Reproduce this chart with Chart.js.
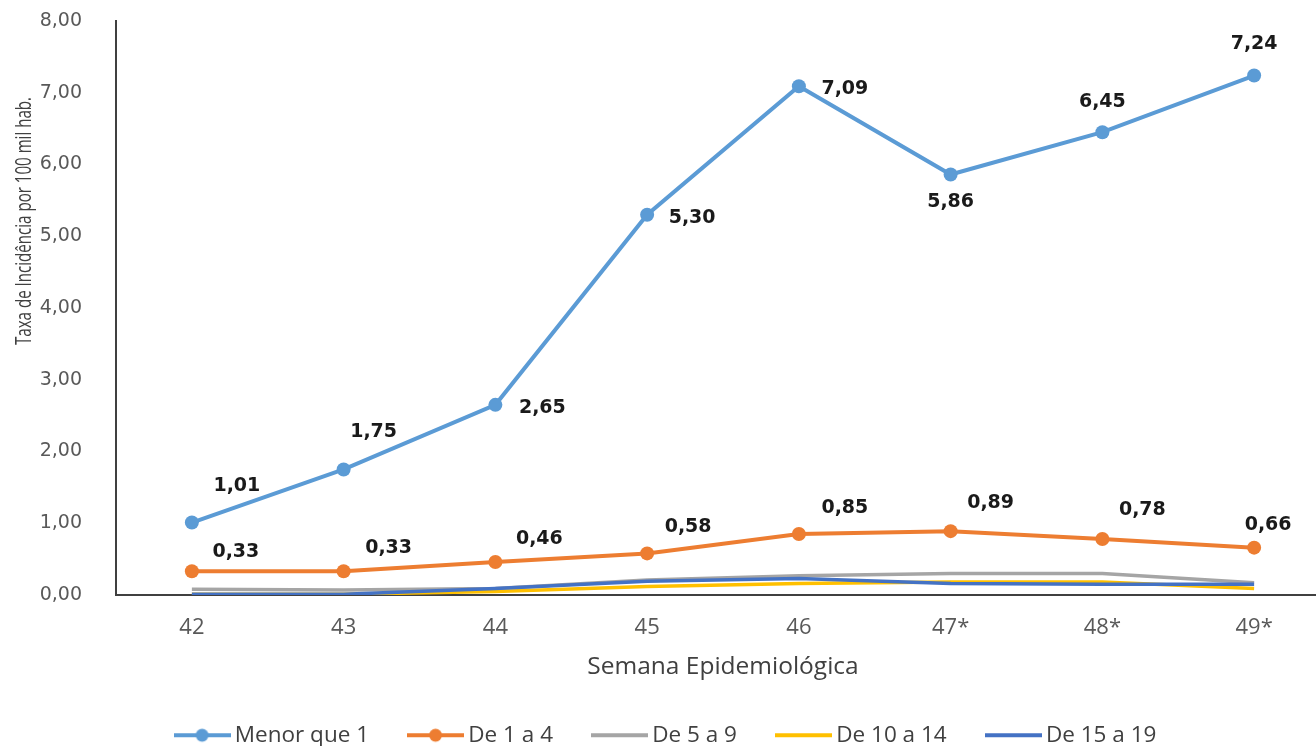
<!DOCTYPE html>
<html lang="pt">
<head>
<meta charset="utf-8">
<title>Taxa de Incidência por faixa etária</title>
<script src="https://cdn.jsdelivr.net/npm/chart.js@4/dist/chart.umd.min.js"></script>
<style>
  html, body { margin: 0; padding: 0; background: #ffffff; overflow: hidden; }
  #wrap { width: 1337px; height: 746px; position: relative; }
</style>
</head>
<body>
<div id="wrap"><canvas id="chart"></canvas></div>
<script>
// Semanas epidemiológicas (eixo X)
const semanas = ['42', '43', '44', '45', '46', '47*', '48*', '49*'];

// Taxa de incidência por 100 mil hab., por faixa etária
const menorQue1 = [1.01, 1.75, 2.65, 5.30, 7.09, 5.86, 6.45, 7.24];
const de1a4     = [0.33, 0.33, 0.46, 0.58, 0.85, 0.89, 0.78, 0.66];
const de5a9     = [0.08, 0.07, 0.09, 0.21, 0.27, 0.30, 0.30, 0.17];
const de10a14   = [0.01, 0.01, 0.05, 0.12, 0.16, 0.18, 0.18, 0.09];
const de15a19   = [0.01, 0.01, 0.09, 0.19, 0.23, 0.16, 0.15, 0.15];

// Marcas do eixo Y
const yTicks = [0, 1, 2, 3, 4, 5, 6, 7, 8];

// Deslocamento (px) de cada rótulo de valor em relação ao seu ponto
const offsetsMenor = [[45, -36], [30, -37], [47, 3], [45, 3], [46, 3], [0, 28], [0, -30], [0, -31]];
const offsets1a4   = [[44, -19], [45, -23], [44, -23], [41, -26], [46, -26], [40, -28], [40, -29], [14, -23]];

const fmt = v => v.toFixed(2).replace('.', ',');

const COLORS = {
  menor: '#5B9BD5',
  um: '#ED7D31',
  cinco: '#A5A5A5',
  dez: '#FFC000',
  quinze: '#4472C4'
};

const SANS = '"Open Sans", "Noto Sans", sans-serif';

// Ícone de legenda: linha com marcador opcional
function legendIcon(color, withDot) {
  const c = document.createElement('canvas');
  c.width = 57; c.height = 16;
  const g = c.getContext('2d');
  g.strokeStyle = color;
  g.lineWidth = 4;
  g.beginPath(); g.moveTo(0, 8); g.lineTo(57, 8); g.stroke();
  if (withDot) {
    g.fillStyle = color;
    g.beginPath(); g.arc(28.5, 8, 6.5, 0, Math.PI * 2); g.fill();
  }
  return c;
}

// Rótulos de valor das duas séries principais
const valueLabels = {
  id: 'valueLabels',
  afterDatasetsDraw(chart) {
    const ctx = chart.ctx;
    ctx.save();
    ctx.font = 'bold 19px "DejaVu Sans", Verdana, sans-serif';
    ctx.fillStyle = '#1a1a1a';
    ctx.textAlign = 'center';
    ctx.textBaseline = 'middle';
    chart.data.datasets.forEach((ds, i) => {
      if (!ds.labelOffsets) return;
      const meta = chart.getDatasetMeta(i);
      meta.data.forEach((pt, j) => {
        const [dx, dy] = ds.labelOffsets[j];
        ctx.fillText(fmt(ds.data[j]), pt.x + dx, pt.y + dy);
      });
    });
    ctx.restore();
  }
};

// Título do eixo Y (texto condensado em 248 px)
const yTitle = {
  id: 'yTitle',
  afterDraw(chart) {
    const ctx = chart.ctx;
    ctx.save();
    ctx.translate(25, 221);
    ctx.rotate(-Math.PI / 2);
    ctx.font = '22px ' + SANS;
    ctx.fillStyle = '#404040';
    ctx.textAlign = 'center';
    ctx.textBaseline = 'middle';
    ctx.fillText('Taxa de Incidência por 100 mil hab.', 0, 0, 248);
    ctx.restore();
  }
};

const lineDs = (label, data, color, order, points, offsets) => ({
  label,
  data,
  borderColor: color,
  backgroundColor: color,
  borderWidth: points ? 4 : 3.5,
  pointRadius: points ? 7 : 0,
  pointHoverRadius: points ? 7 : 0,
  pointBackgroundColor: color,
  pointBorderWidth: 0,
  tension: 0,
  order,
  labelOffsets: offsets,
  legendIcon: legendIcon(color, points)
});

new Chart(document.getElementById('chart'), {
  type: 'line',
  data: {
    labels: semanas,
    datasets: [
      lineDs('Menor que 1', menorQue1, COLORS.menor, 0, true, offsetsMenor),
      lineDs('De 1 a 4', de1a4, COLORS.um, 1, true, offsets1a4),
      lineDs('De 5 a 9', de5a9, COLORS.cinco, 4, false, null),
      lineDs('De 10 a 14', de10a14, COLORS.dez, 3, false, null),
      lineDs('De 15 a 19', de15a19, COLORS.quinze, 2, false, null)
    ]
  },
  options: {
    responsive: true,
    maintainAspectRatio: false,
    animation: false,
    events: [],
    layout: { padding: { top: 21, right: 0, bottom: 0, left: 0 } },
    plugins: {
      tooltip: { enabled: false },
      legend: {
        position: 'bottom',
        maxHeight: 67,
        labels: {
          usePointStyle: true,
          pointStyleWidth: 43,
          boxHeight: 16,
          padding: 45,
          color: '#404040',
          font: { family: SANS, size: 22.5 },
          generateLabels(chart) {
            return chart.data.datasets.map((ds, i) => ({
              text: ds.label,
              pointStyle: ds.legendIcon,
              fillStyle: ds.borderColor,
              strokeStyle: ds.borderColor,
              lineWidth: 0,
              hidden: false,
              datasetIndex: i,
              fontColor: '#404040'
            }));
          }
        }
      }
    },
    scales: {
      x: {
        offset: true,
        grid: { display: false, drawTicks: false },
        border: { display: true, color: '#404040', width: 2 },
        ticks: {
          padding: 20,
          color: '#595959',
          font: { family: SANS, size: 22 }
        },
        title: {
          display: true,
          text: 'Semana Epidemiológica',
          color: '#404040',
          padding: { top: 0, bottom: -3 },
          font: { family: SANS, size: 24.5 }
        },
        afterFit(s) {
          s.height = 84;
          s.paddingLeft = 0;
          s.paddingRight = 0;
        }
      },
      y: {
        min: 0,
        max: 8,
        afterBuildTicks(s) { s.ticks = yTicks.map(v => ({ value: v })); },
        grid: { display: false, drawTicks: false },
        border: { display: true, color: '#404040', width: 2 },
        ticks: {
          padding: 34,
          color: '#595959',
          font: { family: '"DejaVu Sans", Verdana, sans-serif', size: 19 },
          callback: v => fmt(v)
        },
        afterFit(s) {
          s.width = 116;
          s.paddingTop = 0;
          s.paddingBottom = 0;
        }
      }
    }
  },
  plugins: [valueLabels, yTitle]
});
</script>
</body>
</html>
